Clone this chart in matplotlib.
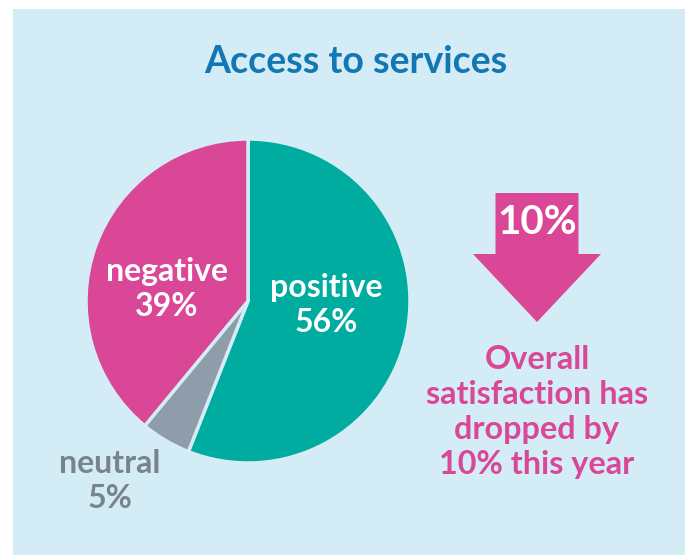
import matplotlib.pyplot as plt
from matplotlib.patches import Rectangle, FancyArrow

# Survey data
labels = ['positive', 'neutral', 'negative']
shares = [56, 5, 39]
colors = ['#00ab9f', '#8f9dab', '#da4797']
label_colors = ['white', '#77838f', 'white']
drop = 10

bg = '#d4ecf6'
plt.rcParams['font.family'] = ['Lato', 'DejaVu Sans']

fig = plt.figure(figsize=(6.85, 5.55), dpi=100, facecolor='white')
ax = fig.add_axes([0, 0, 1, 1])

# Pie
wedges, _ = ax.pie(shares, colors=colors, startangle=90, counterclock=False,
                   center=(248, 254), radius=162,
                   wedgeprops=dict(edgecolor=bg, linewidth=2.5))
for w in wedges:
    w.set_zorder(2)

# pie() resets the view, so fix the pixel frame afterwards
ax.set_xlim(0, 685)
ax.set_ylim(0, 555)
ax.set_aspect('equal')
ax.axis('off')

# Light blue panel
ax.add_patch(Rectangle((13, 0), 672, 546, facecolor=bg, edgecolor='none', zorder=0))

ax.text(356, 493, 'Access to services', ha='center', va='center',
        fontsize=27, fontweight='bold', color='#1277b3')

label_pos = [(326, 250), (110, 74), (167, 266)]
for lab, s, c, (x, y) in zip(labels, shares, label_colors, label_pos):
    ax.text(x, y, f'{lab}\n{s}%', ha='center', va='center', fontsize=23,
            fontweight='bold', color=c, linespacing=1.25, zorder=3)

# Drop arrow
ax.add_patch(FancyArrow(537, 362, 0, -129, width=83, head_width=128,
                        head_length=68, length_includes_head=True,
                        facecolor='#da4797', edgecolor='none', zorder=2))
ax.text(537, 333, f'{drop}%', ha='center', va='center', fontsize=29,
        fontweight='bold', color='white', zorder=3)

ax.text(537, 143, f'Overall\nsatisfaction has\ndropped by\n{drop}% this year',
        ha='center', va='center', fontsize=23.3, fontweight='bold',
        color='#da4797', linespacing=1.26)

fig.savefig('out.png', dpi=100, facecolor='white')
